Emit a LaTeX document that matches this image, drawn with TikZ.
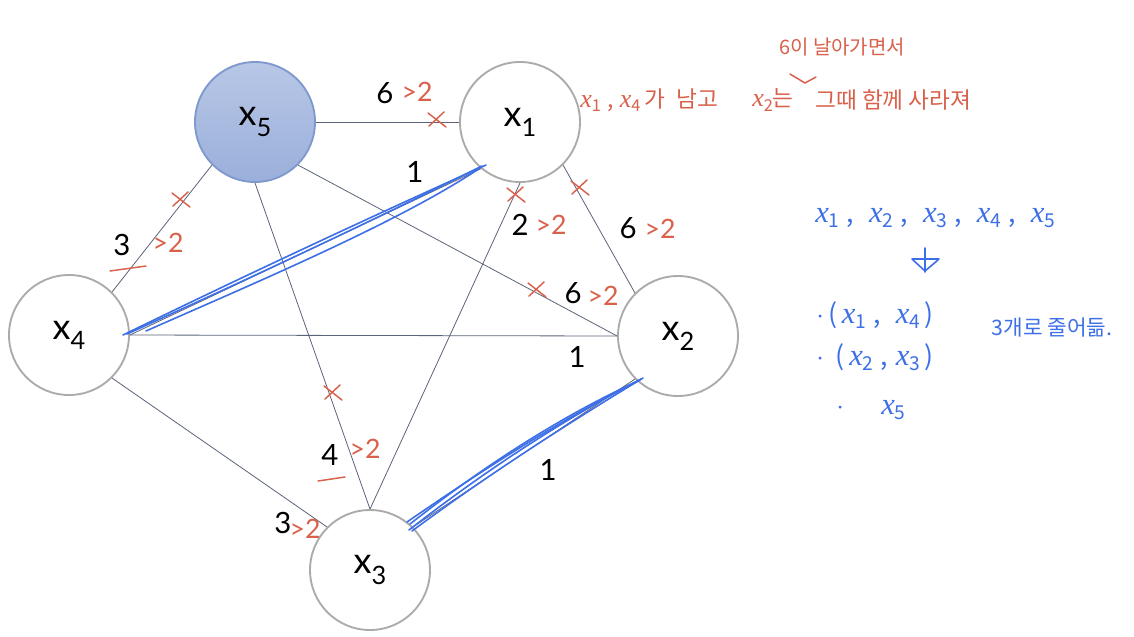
\documentclass[tikz,border=0pt]{standalone}
\usepackage{fontspec}
\setmainfont{Lato}
\newfontfamily\kr{Noto Sans CJK KR}
\newfontfamily\hwi{Liberation Serif}[Scale=1.15]
\definecolor{edgec}{HTML}{5B6478}
\definecolor{ringc}{HTML}{ABABAB}
\definecolor{redc}{HTML}{D9614C}
\definecolor{bluec}{HTML}{3D6FE6}
\definecolor{fillA}{HTML}{B8C7E6}
\definecolor{fillB}{HTML}{9AAFDA}
\definecolor{ringB}{HTML}{7F99CE}
\tikzset{
  vert/.style={circle, draw=ringc, line width=1.4pt, minimum size=90pt, inner sep=0pt,
    font=\fontsize{27}{30}\selectfont},
  edge/.style={draw=edgec, line width=0.6pt},
  wlab/.style={inner sep=0pt, font=\fontsize{22}{24}\selectfont},
  rlab/.style={inner sep=0pt, text=redc, font=\fontsize{20}{22}\selectfont},
  rstroke/.style={draw=redc, line width=1.1pt, line cap=round},
  bstroke/.style={draw=bluec, line width=1.2pt, line cap=round},
  rtext/.style={inner sep=0pt, text=redc, font=\kr\fontsize{17}{19}\selectfont},
  btext/.style={inner sep=0pt, text=bluec, font=\kr\fontsize{20}{22}\selectfont},
  crs/.pic={\draw[rstroke] (-9,-7) -- (9,7); \draw[rstroke] (-8,6) -- (7,-8);}
}
\newcommand\xsub[1]{x\raisebox{-0.28em}{\fontsize{19}{20}\selectfont #1}}
\newcommand\hx[1]{{\hwi\itshape x}\raisebox{-0.35ex}{\scalebox{0.72}{#1}}}
\begin{document}
\begin{tikzpicture}[x=0.75pt,y=-0.75pt]
\useasboundingbox[fill=white] (0,0) rectangle (1134,636);
% vertices
\node[vert, draw=ringB, top color=fillA, bottom color=fillB] (x5) at (255,122) {\xsub{5}};
\node[vert, fill=white] (x1) at (520,122) {\xsub{1}};
\node[vert, fill=white] (x4) at (69,335) {\xsub{4}};
\node[vert, fill=white] (x2) at (678,336) {\xsub{2}};
\node[vert, fill=white] (x3) at (370,570) {\xsub{3}};
% edges
\draw[edge] (x5.east) -- (x1.west);
\draw[edge] (x5.225) -- (x4.45);
\draw[edge] (x5.-45) -- (x2.west);
\draw[edge] (x5.south) -- (x3.north);
\draw[edge] (x1.south) -- (x3.north);
\draw[edge] (x1.-45) -- (x2.135);
\draw[edge] (x4.east) -- (x1.230);
\draw[edge] (x4.east) -- (x2.west);
\draw[edge] (x4.-45) -- (x3.135);
\draw[edge] (x2.225) -- (x3.45);
% weights
\node[wlab] (w51) at (385,93) {6};
\node[wlab] (w41) at (415,172) {1};
\node[wlab] (w54) at (122,245) {3};
\node[wlab] (w13) at (520,225) {2};
\node[wlab] (w12) at (628,228) {6};
\node[wlab] (w52) at (573,293) {6};
\node[wlab] (w42) at (577,357) {1};
\node[wlab] (w53) at (330,455) {4};
\node[wlab] (w23) at (548,470) {1};
\node[wlab] (w43) at (283,523) {3};
% red annotations on weights
\node[rlab] (r51) at (417,92) {>2};
\node[rlab] (r54) at (168,243) {>2};
\node[rlab] (r13) at (551,225) {>2};
\node[rlab] (r12) at (660,229) {>2};
\node[rlab] (r52) at (603,296) {>2};
\node[rlab] (r53) at (365,449) {>2};
\node[rlab] (r43) at (305,529) {>2};
\draw[rstroke] (110,271) -- (146,266);
\draw[rstroke] (318,481) -- (345,477);
% crosses
\pic at (437,120) {crs};
\pic at (181,200) {crs};
\pic at (516,195) {crs};
\pic at (580,188) {crs};
\pic at (537,290) {crs};
\pic at (333,393) {crs};
% blue strokes x4 - x1
\draw[bstroke] (123,335) .. controls (244,276) and (364,220) .. (486,165);
\draw[bstroke] (127,334) .. controls (246,280) and (366,224) .. (482,166);
\draw[bstroke] (146,331) .. controls (250,285) and (400,222) .. (480,168);
% blue strokes x2 - x3
\draw[bstroke] (409,530) .. controls (482,473) and (559,422) .. (641,379);
\draw[bstroke] (410,524) .. controls (480,469) and (557,418) .. (640,380);
\draw[bstroke] (412,531) .. controls (485,477) and (562,427) .. (643,378);
\draw[bstroke] (407,522) .. controls (481,471) and (560,420) .. (638,381);
% red handwritten notes
\node[rtext, font=\kr\fontsize{15}{17}\selectfont] (n1) at (842,47) {6이 날아가면서};
\node[rtext, anchor=west] (n2) at (580,100) {\hx{1}\;,\;\hx{4}\,가\; 남고};
\node[rtext, anchor=west] (n2b) at (752,100) {\hx{2}는};
\node[rtext, anchor=west] (n3) at (815,100) {그때 함께 사라져};
\draw[rstroke] (790,74) -- (805,83) -- (816,77);
% blue notes
\node[btext, anchor=west] (b1) at (815,218) {\hx{1}\;,\;\;\hx{2}\;,\;\;\hx{3}\;,\;\;\hx{4}\;,\;\;\hx{5}};
\draw[bstroke] (925,248) -- (925,272);
\draw[bstroke] (912,259) -- (939,259);
\draw[bstroke] (913,260) -- (925,271) -- (938,260);
\node[btext, anchor=west] (b2) at (816,315) {$\cdot$\,(\,\hx{1}\;,\;\;\hx{4}\,)};
\node[btext, anchor=west] (b3) at (816,357) {$\cdot$\;\,(\,\hx{2}\;,\;\hx{3}\,)};
\node[btext, anchor=west] (b4) at (836,410) {$\cdot$\hspace{28pt}\hx{5}};
\node[btext, font=\kr\fontsize{16}{18}\selectfont] (b5) at (1052,328) {3개로 줄어듦.};
\end{tikzpicture}
\end{document}
